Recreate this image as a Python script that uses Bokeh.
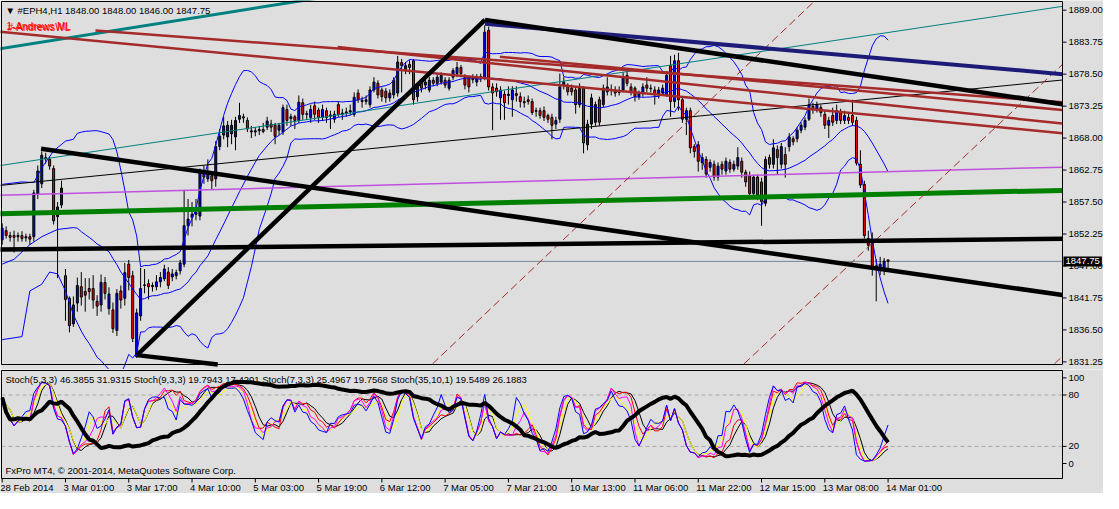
import numpy as np
import pandas as pd
from bokeh.plotting import figure
from bokeh.layouts import column
from bokeh.models import Range1d, Label, ColumnDataSource
from bokeh.core.properties import value
from bokeh.embed import file_html
from bokeh.resources import INLINE

# ---------------- data (EPH4, H1) ----------------
opens = [1851.3, 1852.8, 1852.0, 1852.0, 1851.8, 1852.0, 1851.6, 1851.8, 1851.8, 1858.8,
         1860.5, 1864.8, 1864.5, 1863.0, 1855.1, 1857.0, 1845.4, 1841.7, 1837.5, 1840.9,
         1843.6, 1842.8, 1843.3, 1843.3, 1841.2, 1840.6, 1844.3, 1840.0, 1839.8, 1836.4,
         1842.9, 1841.7, 1847.3, 1845.4, 1832.1, 1838.8, 1843.8, 1844.1, 1843.8, 1843.6,
         1844.4, 1844.9, 1846.0, 1845.2, 1845.4, 1846.2, 1847.3, 1853.6, 1855.0, 1855.5,
         1855.2, 1862.1, 1861.3, 1861.8, 1861.3, 1866.6, 1868.5, 1868.2, 1868.7, 1868.2,
         1871.1, 1871.5, 1870.9, 1869.2, 1869.0, 1869.2, 1869.4, 1869.8, 1870.3, 1870.1,
         1869.3, 1869.0, 1872.7, 1871.2, 1871.5, 1870.9, 1873.8, 1871.9, 1871.4, 1873.3,
         1872.6, 1871.4, 1872.5, 1871.6, 1871.1, 1873.5, 1871.9, 1872.1, 1872.3, 1871.9,
         1875.4, 1874.2, 1874.0, 1873.5, 1875.9, 1877.0, 1875.9, 1875.7, 1874.6, 1875.1,
         1875.4, 1880.4, 1879.3, 1880.1, 1880.7, 1874.8, 1877.0, 1876.7, 1875.9, 1877.5,
         1877.0, 1877.2, 1877.5, 1876.2, 1878.0, 1878.6, 1879.6, 1878.0, 1878.0, 1877.8,
         1877.2, 1877.8, 1878.0, 1885.7, 1876.4, 1876.2, 1874.6, 1875.2, 1875.0, 1874.3,
         1875.3, 1874.8, 1874.0, 1874.3, 1874.0, 1872.4, 1872.5, 1872.5, 1871.7, 1871.4,
         1870.3, 1871.1, 1876.7, 1876.7, 1876.2, 1875.9, 1873.5, 1876.2, 1866.9, 1870.3,
         1870.6, 1874.3, 1873.5, 1875.6, 1875.9, 1875.9, 1875.5, 1875.9, 1878.3, 1876.4,
         1876.2, 1874.8, 1875.4, 1876.7, 1876.2, 1875.9, 1875.3, 1875.4, 1875.1, 1879.9,
         1874.0, 1880.7, 1874.3, 1871.1, 1872.5, 1866.6, 1866.9, 1864.0, 1864.5, 1863.2,
         1863.7, 1861.6, 1863.7, 1862.6, 1864.0, 1862.9, 1863.4, 1864.2, 1862.4, 1861.8,
         1858.9, 1861.6, 1860.8, 1857.3, 1864.8, 1863.7, 1866.1, 1863.7, 1865.3, 1866.6,
         1867.9, 1867.9, 1869.3, 1869.8, 1871.1, 1873.2, 1872.7, 1873.0, 1871.9, 1870.1,
         1871.7, 1870.9, 1872.2, 1870.9, 1871.4, 1871.7, 1870.9, 1863.7, 1860.4, 1851.5,
         1850.7, 1847.0, 1846.7, 1846.5, 1848.0]
highs = [1854.0, 1853.5, 1852.6, 1852.8, 1852.5, 1852.7, 1852.3, 1852.3, 1859.5, 1863.5,
         1865.8, 1865.6, 1865.0, 1863.5, 1857.5, 1861.0, 1846.5, 1842.0, 1842.0, 1845.1,
         1846.0, 1845.0, 1845.0, 1845.5, 1842.2, 1845.6, 1845.2, 1843.5, 1841.0, 1843.2,
         1843.8, 1847.5, 1848.0, 1846.2, 1840.0, 1846.7, 1846.5, 1844.8, 1844.3, 1845.5,
         1846.0, 1847.2, 1846.8, 1846.5, 1846.4, 1848.0, 1859.5, 1858.0, 1857.5, 1858.0,
         1863.0, 1863.5, 1864.5, 1862.5, 1867.5, 1869.5, 1871.5, 1870.8, 1871.0, 1871.5,
         1873.8, 1872.0, 1871.4, 1870.0, 1869.8, 1870.0, 1870.5, 1871.5, 1871.0, 1870.5,
         1870.5, 1873.5, 1873.5, 1872.0, 1871.8, 1875.0, 1874.5, 1872.5, 1873.5, 1874.0,
         1873.0, 1873.5, 1873.0, 1872.5, 1872.5, 1874.0, 1872.8, 1873.0, 1873.5, 1875.5,
         1876.0, 1874.8, 1875.0, 1876.5, 1878.0, 1877.5, 1876.3, 1876.2, 1876.0, 1878.0,
         1881.5, 1881.0, 1880.5, 1880.8, 1881.0, 1877.0, 1877.5, 1877.8, 1878.0, 1878.0,
         1878.5, 1878.8, 1878.0, 1878.0, 1879.5, 1880.5, 1880.0, 1878.5, 1878.3, 1878.5,
         1878.5, 1878.6, 1886.5, 1886.3, 1877.0, 1877.0, 1876.5, 1875.8, 1876.5, 1876.5,
         1876.5, 1875.5, 1874.8, 1875.0, 1874.5, 1873.0, 1873.0, 1873.2, 1872.0, 1872.0,
         1871.5, 1878.6, 1878.0, 1877.0, 1876.8, 1876.5, 1877.0, 1876.5, 1871.0, 1875.3,
         1874.0, 1874.8, 1876.8, 1878.0, 1876.8, 1876.5, 1876.5, 1878.8, 1879.0, 1877.0,
         1876.5, 1875.8, 1877.0, 1878.0, 1876.8, 1876.5, 1876.4, 1876.8, 1879.0, 1881.5,
         1881.7, 1882.0, 1874.8, 1873.0, 1873.0, 1867.0, 1867.5, 1865.5, 1865.0, 1864.5,
         1864.3, 1864.0, 1864.2, 1864.8, 1864.5, 1864.3, 1866.5, 1864.8, 1862.8, 1862.5,
         1862.0, 1862.0, 1861.5, 1865.0, 1865.3, 1867.8, 1866.8, 1867.2, 1866.5, 1868.8,
         1868.3, 1869.8, 1870.6, 1871.4, 1874.5, 1873.8, 1874.0, 1873.5, 1872.5, 1871.5,
         1873.0, 1873.5, 1872.8, 1872.5, 1872.0, 1874.3, 1871.5, 1866.0, 1861.0, 1852.8,
         1852.5, 1848.1, 1848.5, 1848.3, 1848.0]
lows = [1850.5, 1851.5, 1851.0, 1849.2, 1851.0, 1851.0, 1851.0, 1850.5, 1851.0, 1858.0,
        1859.8, 1863.8, 1862.8, 1853.8, 1845.0, 1856.5, 1838.0, 1836.1, 1837.0, 1839.5,
        1840.5, 1839.5, 1841.5, 1840.0, 1838.8, 1839.5, 1841.5, 1839.0, 1836.0, 1835.5,
        1840.0, 1840.5, 1843.0, 1834.5, 1831.9, 1838.0, 1842.5, 1841.5, 1842.8, 1843.0,
        1843.5, 1844.5, 1843.2, 1844.5, 1844.8, 1845.6, 1846.8, 1852.0, 1853.5, 1854.5,
        1854.5, 1860.5, 1860.8, 1859.5, 1860.0, 1866.0, 1867.8, 1866.5, 1867.0, 1866.0,
        1870.5, 1870.5, 1869.0, 1868.0, 1868.3, 1868.5, 1868.8, 1869.3, 1869.0, 1867.0,
        1868.5, 1868.5, 1870.0, 1870.0, 1869.5, 1870.5, 1871.0, 1871.0, 1870.5, 1871.0,
        1870.5, 1870.8, 1870.5, 1869.5, 1870.5, 1871.5, 1871.0, 1871.5, 1871.8, 1871.5,
        1873.8, 1873.0, 1873.5, 1873.0, 1875.5, 1874.5, 1874.0, 1873.8, 1874.0, 1874.5,
        1874.8, 1875.5, 1878.5, 1878.5, 1873.5, 1874.0, 1875.5, 1876.0, 1875.5, 1876.5,
        1876.5, 1876.8, 1876.2, 1875.8, 1877.5, 1878.0, 1878.0, 1876.0, 1875.5, 1877.0,
        1876.5, 1877.2, 1877.5, 1875.8, 1869.3, 1874.8, 1871.0, 1871.0, 1873.5, 1871.5,
        1874.0, 1873.0, 1873.0, 1873.5, 1871.8, 1871.5, 1871.2, 1870.8, 1870.5, 1867.8,
        1869.5, 1870.5, 1876.0, 1875.0, 1875.0, 1872.0, 1873.0, 1865.5, 1866.0, 1869.5,
        1870.0, 1870.0, 1873.0, 1875.0, 1875.0, 1874.8, 1875.0, 1875.5, 1876.5, 1875.0,
        1874.0, 1874.3, 1874.8, 1875.5, 1875.5, 1873.5, 1874.5, 1875.0, 1874.8, 1871.5,
        1873.0, 1872.5, 1870.5, 1868.5, 1865.5, 1864.8, 1862.5, 1862.8, 1861.5, 1862.5,
        1861.0, 1861.0, 1862.0, 1862.0, 1862.3, 1862.5, 1862.8, 1861.5, 1860.0, 1858.0,
        1858.3, 1857.8, 1853.6, 1856.8, 1863.0, 1863.0, 1862.0, 1863.0, 1861.5, 1865.8,
        1866.8, 1867.3, 1868.8, 1869.3, 1870.8, 1872.0, 1872.2, 1871.5, 1869.5, 1868.0,
        1870.0, 1870.3, 1870.3, 1870.3, 1870.3, 1870.0, 1863.5, 1859.8, 1851.5, 1849.5,
        1845.4, 1841.2, 1845.5, 1845.5, 1846.0]
closes = [1853.2, 1852.0, 1851.7, 1851.7, 1852.0, 1851.5, 1851.8, 1851.4, 1859.0, 1862.6,
          1865.2, 1864.6, 1863.4, 1854.4, 1856.7, 1859.8, 1841.5, 1837.2, 1840.6, 1843.8,
          1841.9, 1842.2, 1842.8, 1841.4, 1840.4, 1844.3, 1842.5, 1842.4, 1836.7, 1842.5,
          1841.4, 1845.9, 1845.1, 1835.1, 1839.3, 1843.3, 1843.9, 1843.6, 1843.6, 1844.4,
          1845.1, 1846.5, 1843.8, 1845.7, 1845.9, 1847.5, 1853.6, 1854.7, 1855.5, 1855.8,
          1862.4, 1861.6, 1862.1, 1861.0, 1866.6, 1868.3, 1870.0, 1870.1, 1870.1, 1870.9,
          1871.7, 1871.3, 1869.5, 1869.0, 1869.2, 1869.4, 1869.1, 1870.8, 1869.8, 1868.3,
          1870.1, 1873.0, 1870.9, 1871.5, 1870.9, 1873.9, 1871.9, 1872.0, 1872.7, 1871.9,
          1871.4, 1872.7, 1871.4, 1871.8, 1871.9, 1871.9, 1872.1, 1872.3, 1872.5, 1874.7,
          1874.3, 1874.0, 1874.3, 1875.9, 1877.2, 1875.1, 1874.8, 1874.6, 1875.4, 1877.5,
          1880.5, 1879.9, 1879.9, 1879.6, 1874.3, 1876.7, 1876.2, 1877.2, 1877.5, 1877.0,
          1878.0, 1878.3, 1876.7, 1877.5, 1879.1, 1879.6, 1878.6, 1876.7, 1876.4, 1877.6,
          1878.0, 1878.1, 1885.4, 1876.4, 1875.4, 1875.6, 1875.9, 1873.8, 1875.2, 1875.9,
          1875.0, 1874.0, 1873.8, 1874.0, 1872.2, 1872.5, 1871.7, 1871.4, 1871.1, 1870.1,
          1870.9, 1876.4, 1877.2, 1875.6, 1875.6, 1873.5, 1876.2, 1867.2, 1870.3, 1874.6,
          1873.5, 1870.6, 1876.2, 1876.4, 1876.0, 1875.4, 1875.7, 1878.0, 1877.0, 1875.6,
          1874.8, 1875.3, 1876.4, 1876.2, 1876.1, 1875.1, 1875.9, 1876.2, 1878.3, 1874.0,
          1880.7, 1874.3, 1871.1, 1872.5, 1866.4, 1865.8, 1864.2, 1864.8, 1862.1, 1864.0,
          1861.6, 1863.4, 1862.9, 1864.2, 1862.9, 1863.7, 1864.8, 1862.4, 1860.8, 1858.9,
          1861.6, 1858.7, 1857.6, 1864.5, 1863.7, 1866.4, 1864.8, 1866.6, 1863.7, 1868.2,
          1867.4, 1869.3, 1870.1, 1870.9, 1873.5, 1872.7, 1873.5, 1872.2, 1870.1, 1870.9,
          1870.6, 1872.5, 1870.9, 1871.7, 1870.9, 1870.6, 1863.9, 1860.3, 1852.0, 1850.4,
          1846.7, 1846.6, 1847.3, 1847.8, 1847.75]

# Bollinger band values for the first bars (before 20 bars of history)
bb_head_bars_up = [0, 5, 8, 10, 13, 16, 18]
bb_head_up = [1860.4, 1860.8, 1860.7, 1863.1, 1865.9, 1867.5, 1867.8]
bb_head_bars_mid = [0, 3, 7, 10, 14, 18]
bb_head_mid = [1847.3, 1848.1, 1850.5, 1851.8, 1853.0, 1853.3]
bb_head_bars_dn = [0, 5, 7, 10, 12, 14, 16, 18]
bb_head_dn = [1834.9, 1835.4, 1842.9, 1844.0, 1846.0, 1845.7, 1842.9, 1839.0]

time_tick_bars = [0, 16, 32, 48, 64, 80, 96, 112, 128, 144, 160, 176, 192, 208, 224]
time_tick_labels = ["28 Feb 2014", "3 Mar 01:00", "3 Mar 17:00", "4 Mar 10:00", "5 Mar 03:00",
                    "5 Mar 19:00", "6 Mar 12:00", "7 Mar 05:00", "7 Mar 21:00", "10 Mar 13:00",
                    "11 Mar 06:00", "11 Mar 22:00", "12 Mar 15:00", "13 Mar 08:00", "14 Mar 01:00"]
price_ticks = [1831.25, 1836.50, 1841.75, 1847.00, 1852.25, 1857.50, 1862.75,
               1868.00, 1873.25, 1878.50, 1883.75, 1889.00]
stoch_ticks = [0, 20, 80, 100]
stoch_levels = [20, 80]
bid_price = 1847.75

# drawn objects: (bar1, price1, bar2, price2)
teal_lines = [(-0.925, 1882.63, 80.0, 1891.0), (-0.925, 1863.45, 268.08, 1889.63)]
black_thin_lines = [(-0.925, 1860.20, 268.08, 1877.54)]
magenta_lines = [(-0.925, 1858.61, 268.08, 1863.23)]
green_lines = [(-0.925, 1855.59, 268.08, 1859.41)]
navy_lines = [(122.08, 1886.77, 268.08, 1878.50)]
black_thick_lines = [(-0.925, 1849.70, 268.08, 1851.45), (9.83, 1866.25, 268.08, 1842.23),
                     (34.08, 1832.36, 122.08, 1887.41), (122.08, 1887.41, 268.08, 1873.57),
                     (34.08, 1832.36, 54.5, 1830.82)]
brown_lines = [(-0.925, 1885.50, 268.08, 1868.79), (23.58, 1885.66, 268.08, 1873.88),
               (84.83, 1882.95, 268.08, 1870.39), (125.83, 1881.36, 268.08, 1872.61)]
brown_dashed_lines = [(108.83, 1830.93, 205.3, 1890.43), (187.58, 1830.93, 268.08, 1880.09),
                      (266.08, 1830.93, 268.08, 1832.17)]

title_text = "\u25bc #EPH4,H1  1848.00 1848.00 1846.00 1847.75"
stoch_text = ("Stoch(5,3,3) 46.3855 31.9315  Stoch(9,3,3) 19.7943 17.4201  "
              "Stoch(7,3,3) 25.4967 19.7568  Stoch(35,10,1) 19.5489 26.1883")
copyright_text = "FxPro MT4, \u00a9 2001-2014, MetaQuotes Software Corp."

# ---------------- indicators ----------------
n = len(closes)
idx = np.arange(n)
o = pd.Series(opens); h = pd.Series(highs); l = pd.Series(lows); c = pd.Series(closes)

mid = c.rolling(20).mean()
sd = c.rolling(20).std(ddof=0)
bb_up = mid + 2 * sd
bb_dn = mid - 2 * sd


def stoch(k, d, s):
    ll = l.rolling(k, min_periods=1).min()
    hh = h.rolling(k, min_periods=1).max()
    num = (c - ll).rolling(s, min_periods=1).sum()
    den = (hh - ll).rolling(s, min_periods=1).sum()
    main_line = 100 * num / den
    sig = main_line.rolling(d, min_periods=1).mean()
    return main_line, sig


s5m, s5s = stoch(5, 3, 3)
s9m, s9s = stoch(9, 3, 3)
s7m, s7s = stoch(7, 3, 3)
s35m, s35s = stoch(35, 10, 1)

# ---------------- layout helpers ----------------
BG = "#DEDEDE"
FONT = "Liberation Sans"
FS = "9.5px"
W = 1103
H_MAIN = 369
H_SUB = 124
BAR_L, BAR_R = -0.175, 268.1           # panel edges in bar units
PX_L, PX_R = 1, 1062                   # panel edges in canvas pixels
kx = (BAR_R - BAR_L) / (PX_R - PX_L)   # bars per pixel
x_start = BAR_L - PX_L * kx
x_end = x_start + W * kx

P_TOP, P_BOT = 1890.43, 1830.82        # main panel value range
MPX_T, MPX_B = 1, 364
ky_m = (P_TOP - P_BOT) / (MPX_B - MPX_T)
m_top = P_TOP + MPX_T * ky_m
m_bot = m_top - H_MAIN * ky_m

S_TOP, S_BOT = 108.6, -17.5            # stochastic panel value range
SPX_T, SPX_B = 1, 109
ky_s = (S_TOP - S_BOT) / (SPX_B - SPX_T)
s_top = S_TOP + SPX_T * ky_s
s_bot = s_top - H_SUB * ky_s

xr = Range1d(x_start, x_end)


def make_fig(height, y0, y1):
    f = figure(width=W, height=height, x_range=xr, y_range=Range1d(y0, y1),
               output_backend="svg", toolbar_location=None,
               x_axis_location=None, y_axis_location=None,
               min_border_left=0, min_border_right=0, min_border_top=0, min_border_bottom=0,
               background_fill_color=BG, border_fill_color=BG, outline_line_color=None)
    f.grid.visible = False
    return f


def txt(f, xs, ys, texts, align="left", baseline="middle", color="black", size=FS):
    f.text(x=xs, y=ys, text=texts, text_font=value(FONT), text_font_size=value(size),
           text_color=color, text_align=align, text_baseline=baseline)


# ---------------- main price window ----------------
main = make_fig(H_MAIN, m_bot, m_top)

# bid line
main.line([BAR_L, BAR_R], [bid_price, bid_price], line_color="#778899", line_width=1)

# candles
src = ColumnDataSource(dict(
    x=idx, o=opens, h=highs, l=lows, c=closes,
    top=np.maximum(o, c), bottom=np.minimum(o, c),
    col=["#0000FF" if cc >= oo else "#FF0000" for oo, cc in zip(opens, closes)]))
main.segment(x0="x", y0="l", x1="x", y1="h", source=src, line_color="black", line_width=1)
main.vbar(x="x", width=0.5, top="top", bottom="bottom", source=src,
          fill_color="col", line_color="black", line_width=1)

# Bollinger bands (20, 2): read head + computed body
for hb, hv, s in ((bb_head_bars_up, bb_head_up, bb_up),
                  (bb_head_bars_mid, bb_head_mid, mid),
                  (bb_head_bars_dn, bb_head_dn, bb_dn)):
    xs = list(hb) + list(idx[19:])
    ys = list(hv) + list(s.values[19:])
    main.line(xs, ys, line_color="#0000FF", line_width=1)


def draw(lines, color, width, dash="solid"):
    for (t1, p1, t2, p2) in lines:
        main.line([t1, t2], [p1, p2], line_color=color, line_width=width, line_dash=dash)


draw(teal_lines[:1], "#008080", 3)
draw(teal_lines[1:], "#008080", 1)
draw(black_thin_lines, "black", 1)
draw(magenta_lines, "#C050E0", 1.5)
draw(green_lines, "#008000", 5)
draw(brown_lines, "#A52A2A", 2.5)
draw(brown_dashed_lines, "#A52A2A", 1, "8 4")
draw(navy_lines, "#1C1C78", 4)
draw(black_thick_lines, "black", 4.5)

# panel frame
main.line([BAR_L, BAR_R, BAR_R, BAR_L, BAR_L], [P_TOP, P_TOP, P_BOT, P_BOT, P_TOP],
          line_color="black", line_width=1)
# price scale
main.segment(x0=[BAR_R] * len(price_ticks), y0=price_ticks,
             x1=[BAR_R + 4 * kx] * len(price_ticks), y1=price_ticks,
             line_color="black", line_width=1)
txt(main, [BAR_R + 6 * kx] * len(price_ticks), price_ticks,
    ["%.2f" % p for p in price_ticks])
main.add_layout(Label(x=BAR_R + 1 * kx, y=bid_price, text="%.2f" % bid_price,
                      text_font=FONT, text_font_size=FS, text_color="white",
                      text_baseline="middle", background_fill_color="black", padding=2))

main.add_layout(Label(x=BAR_L, y=P_TOP, x_offset=4, y_offset=-3, text=title_text,
                      text_font=FONT, text_font_size=FS, text_color="black",
                      text_baseline="top"))
main.add_layout(Label(x=BAR_L, y=P_TOP, x_offset=5, y_offset=-19, text="1-Andrews ML",
                      text_font=FONT, text_font_size="10px", text_color="#FF0000",
                      text_baseline="top"))
main.add_layout(Label(x=BAR_L, y=P_TOP, x_offset=6, y_offset=-20, text="#-AndrewsWL",
                      text_font=FONT, text_font_size="10px", text_color="#FF0000",
                      text_baseline="top"))

# ---------------- stochastic window ----------------
sub = make_fig(H_SUB, s_bot, s_top)

for lv in stoch_levels:
    sub.line([BAR_L, BAR_R], [lv, lv], line_color="#A8A8A8", line_width=1, line_dash="4 3")

sub.line(idx, s9s.values, line_color="black", line_width=1)
sub.line(idx, s5s.values, line_color="#FFFF00", line_width=1)
sub.line(idx, s9m.values, line_color="#FF0000", line_width=1)
sub.line(idx, s7m.values, line_color="#FF00FF", line_width=1)
sub.line(idx, s5m.values, line_color="#0000FF", line_width=1)
sub.line(idx, s35s.values, line_color="black", line_width=4)

sub.line([BAR_L, BAR_R, BAR_R, BAR_L, BAR_L], [S_TOP, S_TOP, S_BOT, S_BOT, S_TOP],
         line_color="black", line_width=1)
sub.segment(x0=[BAR_R] * len(stoch_ticks), y0=stoch_ticks,
            x1=[BAR_R + 4 * kx] * len(stoch_ticks), y1=stoch_ticks,
            line_color="black", line_width=1)
txt(sub, [BAR_R + 6 * kx] * len(stoch_ticks), stoch_ticks, [str(v) for v in stoch_ticks])

# time scale
sub.segment(x0=time_tick_bars, y0=[S_BOT] * len(time_tick_bars),
            x1=time_tick_bars, y1=[S_BOT - 4 * ky_s] * len(time_tick_bars),
            line_color="black", line_width=1)
txt(sub, [b - 2 * kx for b in time_tick_bars], [S_BOT - 3 * ky_s] * len(time_tick_bars),
    time_tick_labels, baseline="top")

sub.add_layout(Label(x=BAR_L, y=S_TOP, x_offset=4, y_offset=-3, text=stoch_text,
                     text_font=FONT, text_font_size=FS, text_color="black",
                     text_baseline="top"))
sub.add_layout(Label(x=BAR_L, y=S_BOT, x_offset=4, y_offset=3, text=copyright_text,
                     text_font=FONT, text_font_size=FS, text_color="black",
                     text_baseline="bottom"))

layout = column(main, sub, spacing=0)
open("out.html", "w").write(file_html(layout, INLINE))
